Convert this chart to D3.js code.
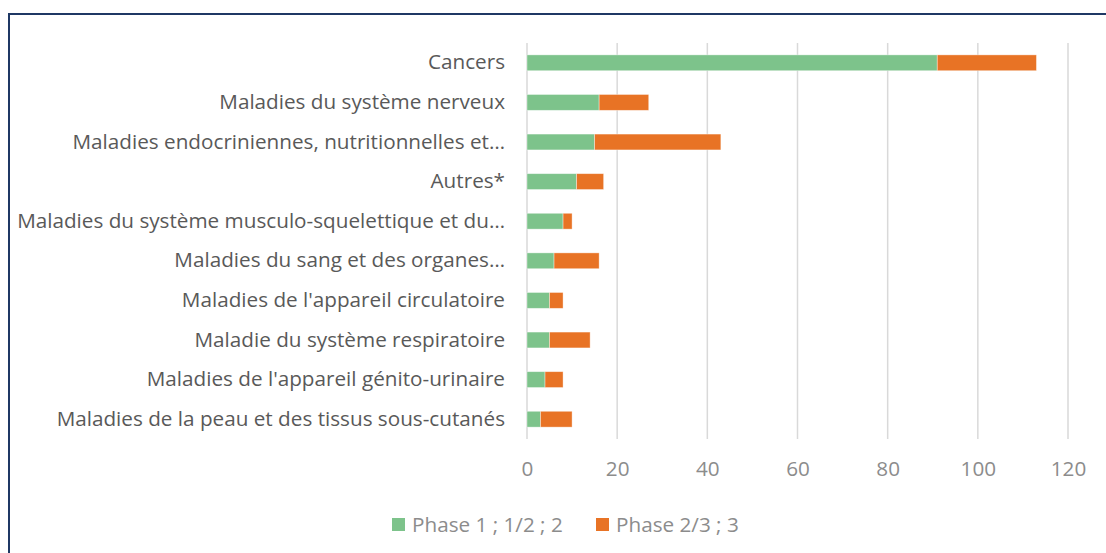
<!DOCTYPE html>
<html>
<head>
<meta charset="utf-8">
<script src="https://cdn.jsdelivr.net/npm/d3@7"></script>
<style>
  body { margin: 0; background: #fff; }
  svg { display: block; font-family: "Open Sans", "Noto Sans", sans-serif; }
</style>
</head>
<body>
<svg id="chart" width="1106" height="553"></svg>
<script>
// categories, top to bottom
const categories = [
  "Cancers",
  "Maladies du système nerveux",
  "Maladies endocriniennes, nutritionnelles et…",
  "Autres*",
  "Maladies du système musculo-squelettique et du…",
  "Maladies du sang et des organes…",
  "Maladies de l'appareil circulatoire",
  "Maladie du système respiratoire",
  "Maladies de l'appareil génito-urinaire",
  "Maladies de la peau et des tissus sous-cutanés"
];
const phase12 = [91, 16, 15, 11, 8, 6, 5, 5, 4, 3];
const phase23 = [22, 11, 28, 6, 2, 10, 3, 9, 4, 7];
const seriesNames = ["Phase 1 ; 1/2 ; 2", "Phase 2/3 ; 3"];
const xTicks = [0, 20, 40, 60, 80, 100, 120];

const colors = ["#7dc38b", "#e87325"];
const fontSize = "20.7px";

const svg = d3.select("#chart");

// outer frame (right and bottom edges fall outside the picture)
svg.append("rect")
  .attr("x", 9).attr("y", 14)
  .attr("width", 1200).attr("height", 600)
  .attr("fill", "none")
  .attr("stroke", "#1f3864")
  .attr("stroke-width", 2);

const x = d3.scaleLinear().domain([0, 120]).range([527, 1068]);
const y = d3.scaleBand().domain(categories).range([43, 439])
  .paddingInner(0.6).paddingOuter(0.3);

// gridlines
svg.append("g").selectAll("line").data(xTicks).join("line")
  .attr("x1", d => x(d)).attr("x2", d => x(d))
  .attr("y1", 43).attr("y2", 439)
  .attr("stroke", "#d9d9d9").attr("stroke-width", 1.5);

// x axis labels
const xAxis = svg.append("g")
  .attr("transform", "translate(0,439)")
  .call(d3.axisBottom(x).tickValues(xTicks).tickSize(0).tickPadding(22));
xAxis.select(".domain").remove();
xAxis.selectAll("text")
  .attr("fill", "#8c8c8c")
  .style("font-size", fontSize)
  .style("font-family", "'Open Sans', sans-serif");

// y axis labels
const yAxis = svg.append("g")
  .attr("transform", "translate(527,0)")
  .call(d3.axisLeft(y).tickSize(0).tickPadding(22));
yAxis.select(".domain").remove();
yAxis.selectAll("text")
  .attr("fill", "#595959")
  .style("font-size", fontSize)
  .style("font-family", "'Open Sans', sans-serif");

// stacked bars
const rows = categories.map((c, i) => ({ cat: c, p1: phase12[i], p2: phase23[i] }));
const stacked = d3.stack().keys(["p1", "p2"])(rows);

svg.append("g").selectAll("g").data(stacked).join("g")
  .attr("fill", (d, i) => colors[i])
  .selectAll("rect").data(d => d).join("rect")
  .attr("x", d => x(d[0]))
  .attr("y", d => y(d.data.cat))
  .attr("width", d => x(d[1]) - x(d[0]))
  .attr("height", y.bandwidth())
  .attr("stroke", "#ffffff")
  .attr("stroke-opacity", 0.5)
  .attr("stroke-width", 0.75);

// legend
const legendX = [392, 596];
const legend = svg.append("g").selectAll("g").data(seriesNames).join("g")
  .attr("transform", (d, i) => `translate(${legendX[i]},518)`);
legend.append("rect")
  .attr("width", 13).attr("height", 13)
  .attr("fill", (d, i) => colors[i]);
legend.append("text")
  .attr("x", 20).attr("y", 7)
  .attr("dy", "0.35em")
  .attr("fill", "#8c8c8c")
  .style("font-size", fontSize)
  .text(d => d);
</script>
</body>
</html>
